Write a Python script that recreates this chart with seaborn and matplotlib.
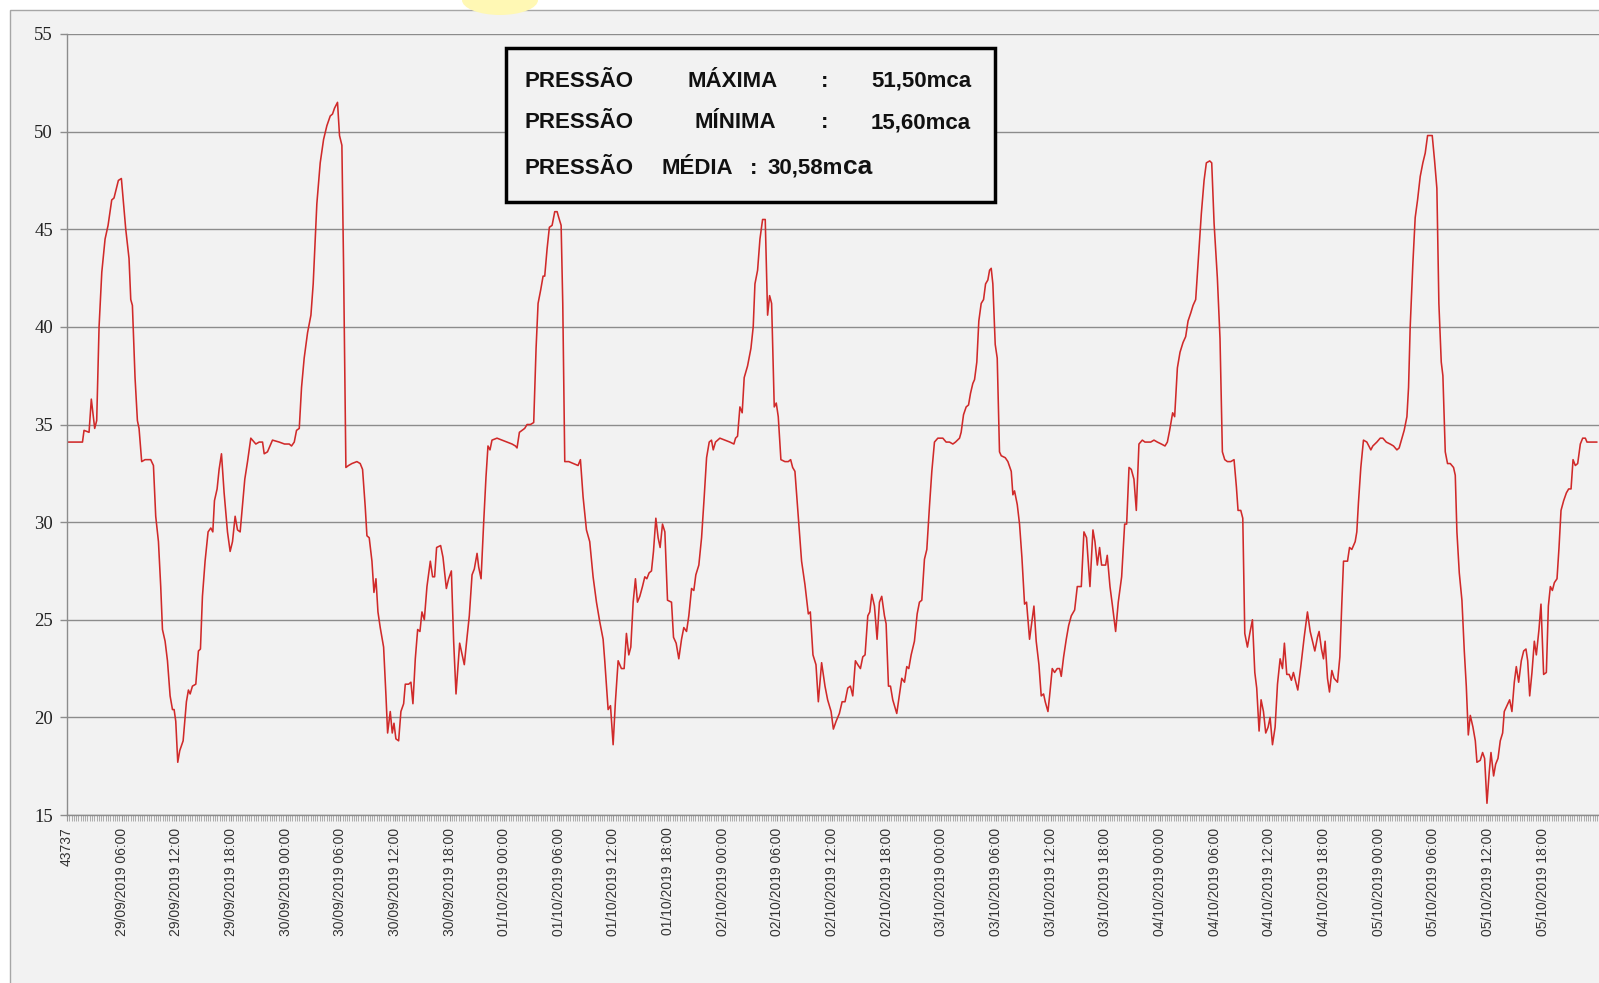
import matplotlib
matplotlib.use("Agg")

import matplotlib.dates as mdates
import matplotlib.pyplot as plt
import pandas as pd
import seaborn as sns
from matplotlib.patches import Ellipse, Rectangle

# Leituras do registrador (horas a partir de 29/09/2019 00:00, pressao em mca)
horas = [
    0.0, 1.7, 1.87, 2.42, 2.67, 3.04, 3.26, 3.52, 3.82, 4.18,
    4.51, 4.91, 5.16, 5.64, 5.97, 6.45, 6.81, 7.0, 7.18, 7.47,
    7.73, 7.91, 8.2, 8.57, 9.19, 9.49, 9.74, 10.04, 10.29, 10.48,
    10.77, 11.03, 11.32, 11.58, 11.76, 11.94, 12.16, 12.38, 12.75, 13.11,
    13.33, 13.52, 13.77, 14.14, 14.43, 14.65, 14.87, 15.16, 15.49, 15.79,
    16.01, 16.19, 16.48, 16.7, 16.96, 17.25, 17.62, 17.91, 18.17, 18.46,
    18.72, 19.01, 19.27, 19.52, 19.82, 20.18, 20.55, 20.73, 21.1, 21.47,
    21.65, 22.01, 22.56, 23.3, 23.88, 24.4, 24.65, 24.95, 25.2, 25.5,
    25.75, 26.04, 26.41, 26.78, 27.03,
    27.25, 27.43, 27.8, 28.17, 28.53, 28.9, 29.15, 29.37, 29.7, 29.92,
    30.18, 30.36, 30.62, 30.91, 31.28, 31.83, 32.19, 32.45, 32.74, 32.93,
    33.18, 33.48, 33.7, 33.92, 34.14, 34.39, 34.76, 35.02, 35.2, 35.49,
    35.71, 35.9, 36.11, 36.41, 36.66, 36.96, 37.14, 37.51, 37.76, 37.98,
    38.24, 38.5, 38.75, 38.97, 39.23, 39.52, 39.89, 40.14, 40.36, 40.58,
    41.02, 41.28, 41.65, 41.9, 42.2, 42.45, 42.71, 43.11, 43.62, 43.92,
    44.17, 44.47, 44.72, 45.02, 45.2, 45.46, 45.75, 46.0, 46.22, 46.44,
    46.66, 47.21, 47.76, 48.31, 48.86, 49.23, 49.41, 49.67, 49.96, 50.25,
    50.51, 50.88, 51.24, 51.5, 51.72, 52.01, 52.27, 52.45, 52.71, 52.96,
    53.26, 53.55, 53.81, 53.99, 54.25, 54.43, 54.65, 55.09,
    56.11, 56.37, 56.66, 57.03, 57.39, 57.76, 58.13, 58.49, 58.86, 59.04,
    59.41, 59.67, 59.96, 60.21, 60.51, 60.87, 61.17, 61.42, 61.68, 61.9,
    62.16, 62.41, 62.63, 62.89, 63.18, 63.44, 63.66, 63.91, 64.17, 64.39,
    64.65, 64.9, 65.12, 65.38, 65.64, 65.93, 66.37, 66.59, 66.88, 67.17,
    67.47, 67.72, 68.02, 68.27, 68.57, 68.82, 69.04, 69.37, 69.67, 69.96,
    70.22, 70.51, 70.76, 70.95, 71.2, 71.68, 72.23, 72.78, 73.22, 73.4,
    73.62, 73.88, 74.13, 74.35, 74.72, 75.09, 75.34, 75.53, 75.82, 76.08,
    76.37, 76.66, 76.92, 77.14, 77.36, 77.65, 77.87, 78.09, 78.38, 78.82,
    79.19, 79.45, 79.67, 79.92, 80.29, 80.65, 81.02, 81.39, 81.61, 81.9,
    82.23, 82.49, 82.85, 83.22, 83.51,
    83.89, 84.14, 84.44, 84.8, 85.1, 85.42, 85.72, 86.01, 86.27, 86.56,
    86.82, 87.11, 87.37, 87.62, 87.92, 88.14, 88.36, 88.65, 88.94, 89.2,
    89.45, 89.75, 89.93, 90.19, 90.41, 90.66, 91.1, 91.4, 91.65, 91.95,
    92.2, 92.42, 92.68, 93.04, 93.34, 93.59, 93.85, 94.14, 94.4, 94.69,
    94.95, 95.24, 95.61, 96.16, 96.52, 96.89, 97.26, 97.55, 97.99, 98.17,
    98.43, 98.72, 98.98, 99.2, 99.45, 99.64, 99.89, 100.11, 100.37, 100.63,
    100.85, 101.1, 101.29, 101.47, 101.65, 101.91, 102.13, 102.38, 102.57, 103.01,
    103.3, 103.67, 103.85, 104.03, 104.33, 104.58, 104.84, 105.13, 105.35, 105.68,
    105.94, 106.16, 106.41, 106.71, 106.96, 107.22, 107.4, 107.7, 107.88, 108.17,
    108.43, 108.72, 108.98, 109.16, 109.42, 109.71, 109.97, 110.26, 110.63, 110.92,
    111.36, 111.65,
    111.94, 112.31, 112.64, 112.86, 113.12, 113.37, 113.59, 114.03, 114.21, 114.51,
    114.76, 115.13, 115.42, 115.79, 116.12, 116.34, 116.6, 116.85, 117.14, 117.4,
    117.69, 118.06, 118.35, 118.98, 119.34, 119.71, 120.15, 120.55, 120.81, 121.06,
    121.39, 121.61, 121.91, 122.2, 122.53, 122.82, 123.08, 123.37, 123.63, 123.92,
    124.29, 124.54, 124.84, 125.09, 125.46, 125.68, 125.94, 126.3, 126.59, 126.85,
    127.11, 127.4, 127.77, 128.13, 128.39, 128.57, 128.87, 129.09, 129.31, 129.6,
    129.86, 130.15, 130.41, 130.62, 130.88, 131.1, 131.36, 131.61, 131.87, 132.09,
    132.35, 132.64, 132.9, 133.19, 133.45, 133.66, 133.92, 134.18, 134.43, 134.65,
    134.91, 135.13, 135.46, 135.83, 136.19, 136.49, 136.74, 137.0, 137.29, 137.47,
    137.73, 137.95, 138.13, 138.39, 138.61, 138.87, 139.12, 139.49, 139.75,
    139.96, 140.15, 140.59, 140.81, 141.06, 141.43, 141.61, 141.79, 142.05, 142.34,
    142.71, 143.15, 143.37, 143.81, 144.18, 144.47, 144.84, 145.27, 145.64, 146.01,
    146.26, 146.56, 146.81, 147.11, 147.29, 147.47, 147.77, 148.02, 148.28, 148.57,
    148.86, 149.12, 149.38, 149.67, 149.89, 150.15, 150.4, 150.62, 150.88, 151.06,
    151.32, 151.57, 151.87, 152.23, 152.42, 152.6, 152.86, 153.15, 153.41, 153.63,
    153.85, 154.07, 154.36, 154.62, 154.8, 155.16, 155.42, 155.64, 155.9, 156.15,
    156.34, 156.63, 156.85, 157.11, 157.36, 157.62, 157.8, 158.1, 158.39, 158.64,
    158.9, 159.12, 159.38, 159.67, 159.93, 160.18, 160.37, 160.59, 160.84, 161.1,
    161.32, 161.61, 161.83, 162.12, 162.42, 162.64, 162.86, 163.08, 163.3, 163.59,
    163.81, 164.03, 164.32, 164.62, 164.87, 165.13, 165.35, 165.6, 165.86, 166.15,
    166.41, 166.7, 166.88, 167.43, 167.98,
]

pressao = [
    34.1, 34.1, 34.7, 34.6, 36.3, 34.8, 35.2, 40.0, 42.8, 44.5,
    45.2, 46.5, 46.6, 47.5, 47.6, 45.0, 43.5, 41.4, 41.1, 37.4,
    35.2, 34.8, 33.1, 33.2, 33.2, 32.9, 30.3, 29.0, 26.7, 24.5,
    23.9, 22.9, 21.1, 20.4, 20.4, 19.8, 17.7, 18.3, 18.8, 20.8,
    21.4, 21.2, 21.6, 21.7, 23.4, 23.5, 26.2, 28.0, 29.5, 29.7,
    29.5, 31.1, 31.7, 32.7, 33.5, 31.5, 29.5, 28.5, 29.0, 30.3,
    29.6, 29.5, 30.9, 32.2, 33.1, 34.3, 34.1, 34.0, 34.1, 34.1,
    33.5, 33.6, 34.2, 34.1, 34.0, 34.0, 33.9, 34.1, 34.7, 34.8,
    36.9, 38.4, 39.7, 40.6, 42.2,
    44.5, 46.3, 48.4, 49.6, 50.3, 50.8, 50.9, 51.2, 51.5, 49.8,
    49.3, 43.3, 32.8, 32.9, 33.0, 33.1, 33.0, 32.7, 30.8, 29.3,
    29.2, 28.0, 26.4, 27.1, 25.4, 24.6, 23.6, 21.1, 19.2, 20.3,
    19.2, 19.7, 18.9, 18.8, 20.3, 20.7, 21.7, 21.7, 21.8, 20.7,
    23.0, 24.5, 24.4, 25.4, 25.0, 26.7, 28.0, 27.2, 27.2, 28.7,
    28.8, 28.2, 26.6, 27.1, 27.5, 23.9, 21.2, 23.8, 22.7, 24.1,
    25.2, 27.3, 27.6, 28.4, 27.7, 27.1, 30.0, 32.3, 33.9, 33.7,
    34.2, 34.3, 34.2, 34.1, 34.0, 33.9, 33.8, 34.6, 34.7, 34.8,
    35.0, 35.0, 35.1, 38.9, 41.2, 41.9, 42.6, 42.6, 44.0, 45.1,
    45.2, 45.9, 45.9, 45.6, 45.2, 41.2, 33.1, 33.1,
    32.9, 33.2, 31.3, 29.6, 29.0, 27.2, 25.9, 24.9, 24.0, 22.9,
    20.4, 20.6, 18.6, 20.8, 22.9, 22.5, 22.5, 24.3, 23.2, 23.6,
    25.9, 27.1, 25.9, 26.2, 26.7, 27.2, 27.1, 27.4, 27.5, 28.5,
    30.2, 29.2, 28.7, 29.9, 29.5, 26.0, 25.9, 24.1, 23.8, 23.0,
    24.0, 24.6, 24.4, 25.2, 26.6, 26.5, 27.3, 27.8, 29.2, 31.3,
    33.3, 34.1, 34.2, 33.7, 34.1, 34.3, 34.2, 34.1, 34.0, 34.3,
    34.4, 35.9, 35.6, 37.4, 38.0, 38.9, 40.0, 42.2, 42.9, 44.5,
    45.5, 45.5, 40.6, 41.6, 41.2, 35.9, 36.1, 35.4, 33.2, 33.1,
    33.1, 33.2, 32.8, 32.6, 30.3, 28.0, 26.8, 25.3, 25.4, 23.2,
    22.7, 20.8, 22.8, 21.6, 20.9,
    20.3, 19.4, 19.8, 20.2, 20.8, 20.8, 21.5, 21.6, 21.1, 22.9,
    22.7, 22.5, 23.1, 23.2, 25.2, 25.4, 26.3, 25.7, 24.0, 25.9,
    26.2, 25.2, 24.8, 21.6, 21.6, 20.9, 20.2, 21.2, 22.0, 21.8,
    22.6, 22.5, 23.2, 23.9, 25.3, 25.9, 26.0, 28.1, 28.6, 30.8,
    32.6, 34.1, 34.3, 34.3, 34.1, 34.1, 34.0, 34.1, 34.3, 34.6,
    35.5, 35.9, 36.0, 36.6, 37.1, 37.3, 38.2, 40.3, 41.2, 41.4,
    42.2, 42.4, 42.9, 43.0, 42.2, 39.1, 38.4, 33.6, 33.4, 33.3,
    33.1, 32.6, 31.4, 31.6, 30.9, 29.9, 28.2, 25.8, 25.9, 24.0,
    24.9, 25.7, 23.9, 22.7, 21.1, 21.2, 20.8, 20.3, 21.1, 22.5,
    22.3, 22.5, 22.5, 22.1, 23.1, 24.0, 24.7, 25.2, 25.5, 26.7,
    26.7, 29.5,
    29.2, 26.7, 29.6, 29.0, 27.8, 28.7, 27.8, 27.8, 28.3, 26.7,
    25.8, 24.4, 25.9, 27.2, 29.9, 29.9, 32.8, 32.7, 32.2, 30.6,
    34.0, 34.2, 34.1, 34.1, 34.2, 34.1, 34.0, 33.9, 34.1, 34.7,
    35.6, 35.4, 37.9, 38.7, 39.2, 39.5, 40.3, 40.7, 41.1, 41.4,
    44.0, 45.8, 47.5, 48.4, 48.5, 48.4, 45.3, 42.5, 39.4, 33.6,
    33.2, 33.1, 33.1, 33.2, 31.8, 30.6, 30.6, 30.2, 24.3, 23.6,
    24.3, 25.0, 22.3, 21.5, 19.3, 20.9, 20.3, 19.2, 19.5, 20.0,
    18.6, 19.5, 21.7, 23.0, 22.5, 23.8, 22.2, 22.2, 21.9, 22.3,
    21.8, 21.4, 22.6, 24.1, 25.4, 24.4, 23.9, 23.4, 24.1, 24.4,
    23.5, 23.0, 23.9, 22.0, 21.3, 22.4, 22.0, 21.8, 23.1,
    25.8, 28.0, 28.0, 28.7, 28.6, 29.0, 29.5, 31.0, 32.8, 34.2,
    34.1, 33.7, 33.9, 34.1, 34.3, 34.3, 34.1, 34.0, 33.9, 33.7,
    33.8, 34.3, 34.7, 35.4, 36.9, 40.0, 43.3, 45.6, 46.5, 47.7,
    48.4, 48.9, 49.8, 49.8, 49.8, 48.5, 47.1, 41.2, 38.2, 37.5,
    33.6, 33.0, 33.0, 32.8, 32.4, 29.5, 27.4, 26.0, 23.4, 21.6,
    19.1, 20.1, 19.5, 18.8, 17.7, 17.8, 18.2, 17.9, 15.6, 17.2,
    18.2, 17.0, 17.6, 17.9, 18.8, 19.2, 20.3, 20.6, 20.9, 20.3,
    21.8, 22.6, 21.8, 22.9, 23.4, 23.5, 22.9, 21.1, 22.3, 23.9,
    23.2, 24.5, 25.8, 22.2, 22.3, 25.7, 26.7, 26.5, 26.9, 27.1,
    28.7, 30.6, 31.1, 31.5, 31.7, 31.7, 33.2, 32.9, 33.0, 34.0,
    34.3, 34.3, 34.1, 34.1, 34.1,
]

rotulos_x = [
    "43737", "29/09/2019 06:00", "29/09/2019 12:00", "29/09/2019 18:00",
    "30/09/2019 00:00", "30/09/2019 06:00", "30/09/2019 12:00", "30/09/2019 18:00",
    "01/10/2019 00:00", "01/10/2019 06:00", "01/10/2019 12:00", "01/10/2019 18:00",
    "02/10/2019 00:00", "02/10/2019 06:00", "02/10/2019 12:00", "02/10/2019 18:00",
    "03/10/2019 00:00", "03/10/2019 06:00", "03/10/2019 12:00", "03/10/2019 18:00",
    "04/10/2019 00:00", "04/10/2019 06:00", "04/10/2019 12:00", "04/10/2019 18:00",
    "05/10/2019 00:00", "05/10/2019 06:00", "05/10/2019 12:00", "05/10/2019 18:00",
]
yticks = [15, 20, 25, 30, 35, 40, 45, 50, 55]

assert len(horas) == len(pressao)

W, H = 1599, 983
FUNDO = "#f2f2f2"
CINZA = "#8c8c8c"


def fx(x):
    return x / W


def fy(y):
    return 1 - y / H


sns.set_theme(style="white")
plt.rcParams["font.family"] = ["Liberation Sans", "DejaVu Sans"]

inicio = pd.Timestamp("2019-09-29 00:00")
df = pd.DataFrame({
    "data": inicio + pd.to_timedelta(horas, unit="h"),
    "pressao": pressao,
})

fig = plt.figure(figsize=(W / 100, H / 100), dpi=100, facecolor="white")

# moldura cinza da area do grafico
fig.add_artist(Rectangle((fx(10), -0.1), 2, fy(10) + 0.1, transform=fig.transFigure,
                         facecolor=FUNDO, edgecolor="#a6a6a6", lw=1, zorder=0))
fig.add_artist(Ellipse((fx(500), 1.0), 76 / W, 30 / H, transform=fig.transFigure,
                       facecolor="#fff8b4", edgecolor="none", zorder=1))

ax = fig.add_axes([fx(67), fy(815), 1 - fx(67), (815 - 34) / H])
ax.set_facecolor("none")

sns.lineplot(data=df, x="data", y="pressao", ax=ax, color="#d02a2a",
             lw=1.15, estimator=None, legend=False)

ax.set_ylim(15, 55)
ax.set_xlim(mdates.date2num(inicio), mdates.date2num(inicio + pd.Timedelta(hours=168.2)))
ax.set_yticks(yticks)
ax.set_yticklabels([str(v) for v in yticks], family=["Liberation Serif", "DejaVu Serif"],
                   fontsize=13.5, color="#222222")
ax.grid(axis="y", color=CINZA, lw=1)
ax.set_axisbelow(True)

pos_x = [mdates.date2num(inicio + pd.Timedelta(hours=6 * i)) for i in range(len(rotulos_x))]
ax.set_xticks(pos_x)
ax.set_xticklabels(rotulos_x, rotation=90, fontsize=10, color="#333333")
ax.xaxis.set_minor_locator(mdates.MinuteLocator(byminute=[0, 15, 30, 45]))

ax.tick_params(axis="y", which="major", length=5, width=1, color=CINZA, pad=5, left=True)
ax.tick_params(axis="x", which="major", length=4, width=0.8, color="#999999", pad=5, bottom=True)
ax.tick_params(axis="x", which="minor", length=4, width=0.6, color="#a0a0a0", bottom=True)

for lado in ["top", "right"]:
    ax.spines[lado].set_visible(False)
for lado in ["left", "bottom"]:
    ax.spines[lado].set_color(CINZA)
    ax.spines[lado].set_linewidth(1)
ax.set_xlabel("")
ax.set_ylabel("")

# caixa com resumo das pressoes
fig.add_artist(Rectangle((fx(506), fy(202)), (995 - 506) / W, (202 - 48) / H,
                         transform=fig.transFigure, facecolor=FUNDO,
                         edgecolor="black", lw=2.5, zorder=5))

estilo = dict(fontsize=16, fontweight="bold", color="#111111", va="baseline", zorder=6)
linhas = [
    (87, [("PRESSÃO", 579), ("MÁXIMA", 733), (":", 825), ("51,50mca", 921)]),
    (128, [("PRESSÃO", 579), ("MÍNIMA", 735), (":", 825), ("15,60mca", 921)]),
]
for base, palavras in linhas:
    for txt, cx in palavras:
        fig.text(fx(cx), fy(base), txt, ha="center", **estilo)

fig.text(fx(579), fy(174), "PRESSÃO", ha="center", **estilo)
fig.text(fx(697), fy(174), "MÉDIA", ha="center", **estilo)
fig.text(fx(754), fy(174), ":", ha="center", **estilo)
fig.text(fx(843), fy(174), "30,58m", ha="right", **estilo)
fig.text(fx(843), fy(174), "ca", ha="left", fontsize=19, fontweight="bold",
         color="#111111", va="baseline", zorder=6)

fig.savefig("out.png", dpi=100)
